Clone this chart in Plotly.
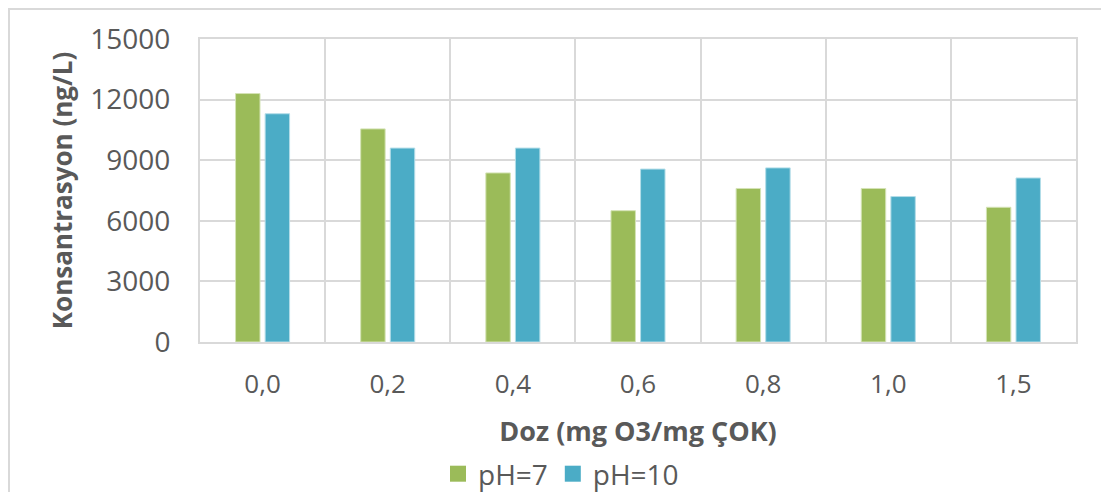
import plotly.graph_objects as go

categories = ["0,0", "0,2", "0,4", "0,6", "0,8", "1,0", "1,5"]
ph7 = [12300, 10550, 8370, 6500, 7600, 7600, 6670]
ph10 = [11300, 9600, 9600, 8560, 8620, 7200, 8120]
series_names = ["pH=7", "pH=10"]
colors = ["#9BBB59", "#4BACC6"]
y_ticks = [0, 3000, 6000, 9000, 12000, 15000]

# page has an 8px body margin; work in figure coordinates = page - 8
OFF = 8
W, H = 1109 - OFF, 500 - 2 * OFF
L, R, T = 200 - OFF, 1109 - 1076, 39 - OFF
B = H - (342 - OFF)
pw, ph = W - L - R, H - T - B

font = "Open Sans"
grey = "#595959"
grid = "#d9d9d9"

fig = go.Figure()
fig.add_trace(go.Bar(x=categories, y=ph7, name=series_names[0], showlegend=False,
                     marker=dict(color=colors[0], line=dict(color="#d4e3b5", width=1))))
fig.add_trace(go.Bar(x=categories, y=ph10, name=series_names[1], showlegend=False,
                     marker=dict(color=colors[1], line=dict(color="#b3dde8", width=1))))
for name, c in zip(series_names, colors):
    fig.add_trace(go.Scatter(x=[None], y=[None], mode="markers", name=name,
                             marker=dict(symbol="square", size=18, color=c)))

def px_x(p):
    return (p - OFF - L) / pw

def px_y(p):
    return (H - B - (p - OFF)) / ph

fig.update_layout(
    width=W, height=H,
    margin=dict(l=L, r=R, t=T, b=B, autoexpand=False),
    paper_bgcolor="white", plot_bgcolor="white",
    barmode="group", bargap=0.527, bargroupgap=0.174,
    font=dict(family=font, color=grey),
    showlegend=True,
    legend=dict(orientation="h", x=px_x(561), xanchor="center", y=px_y(474), yanchor="middle",
                font=dict(family=font, size=28, color=grey),
                itemwidth=30, tracegroupgap=0, traceorder="normal"),
    xaxis=dict(
        type="category", tickson="boundaries", showgrid=True, gridcolor=grid, gridwidth=2,
        ticks="", showline=True, linecolor=grid, linewidth=2, mirror=True,
        tickfont=dict(family=font, size=26, color=grey), ticklabelstandoff=18,
        title=dict(text="<b>Doz (mg O3/mg ÇOK)</b>", font=dict(family=font, size=27, color=grey),
                   standoff=22),
    ),
    yaxis=dict(
        range=[0, 15000], tickvals=y_ticks, ticktext=[str(v) for v in y_ticks],
        showgrid=True, gridcolor=grid, gridwidth=2, zeroline=False,
        showline=True, linecolor=grid, linewidth=2, mirror=True, ticks="",
        tickfont=dict(family=font, size=28, color=grey), ticklabelstandoff=22,
        title=dict(text="<b>Konsantrasyon (ng/L)</b>", font=dict(family=font, size=26, color=grey),
                   standoff=10),
    ),
    shapes=[dict(type="rect", xref="paper", yref="paper",
                 x0=px_x(9), x1=px_x(1104), y0=px_y(540), y1=px_y(9),
                 line=dict(color=grid, width=2), layer="below")],
)

fig.write_html("out.html")
